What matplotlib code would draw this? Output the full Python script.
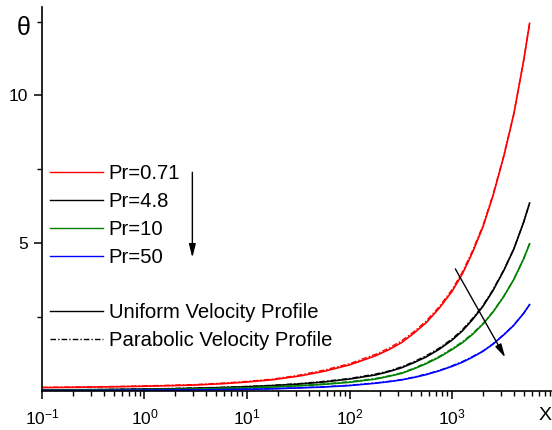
import matplotlib
matplotlib.use("Agg")
import matplotlib.pyplot as plt
from matplotlib.lines import Line2D
from matplotlib.ticker import FixedLocator, NullFormatter

plt.rcParams['font.family'] = ['Liberation Sans', 'DejaVu Sans']
plt.rcParams['mathtext.default'] = 'regular'

# values
x = [0.1, 0.18, 0.32, 0.56, 1, 1.8, 3.2, 5.6, 10, 18, 32, 56, 100, 180, 240, 320, 420,
     560, 750, 1000, 1260, 1580, 2000, 2500, 3200, 4000, 5000, 5700]

red_uniform = [0.11, 0.117, 0.13, 0.14, 0.157, 0.176, 0.20, 0.24, 0.30, 0.38, 0.50, 0.66,
               0.88, 1.19, 1.39, 1.63, 1.94, 2.31, 2.80, 3.37, 3.96, 4.68, 5.55, 6.59,
               7.95, 9.37, 11.2, 12.44]
red_parabolic = [0.12, 0.13, 0.14, 0.15, 0.17, 0.19, 0.215, 0.26, 0.32, 0.40, 0.53, 0.70,
                 0.92, 1.24, 1.44, 1.69, 1.99, 2.37, 2.85, 3.43, 4.02, 4.74, 5.60, 6.63,
                 7.98, 9.39, 11.2, 12.44]

black_uniform = [0.03, 0.035, 0.04, 0.05, 0.06, 0.07, 0.09, 0.11, 0.14, 0.18, 0.23, 0.30,
                 0.40, 0.54, 0.65, 0.78, 0.95, 1.15, 1.41, 1.72, 2.03, 2.41, 2.86, 3.39,
                 4.08, 4.80, 5.72, 6.36]
black_parabolic = [0.035, 0.04, 0.045, 0.055, 0.065, 0.08, 0.10, 0.12, 0.15, 0.19, 0.245, 0.32,
                   0.42, 0.57, 0.67, 0.81, 0.98, 1.19, 1.45, 1.76, 2.07, 2.45, 2.89, 3.42,
                   4.10, 4.81, 5.72, 6.36]

green_uniform = [0.02, 0.02, 0.025, 0.03, 0.04, 0.05, 0.06, 0.08, 0.10, 0.13, 0.17, 0.22,
                 0.29, 0.40, 0.49, 0.59, 0.74, 0.92, 1.14, 1.40, 1.63, 1.91, 2.26, 2.66,
                 3.20, 3.77, 4.48, 4.98]
green_parabolic = [0.025, 0.025, 0.03, 0.035, 0.045, 0.055, 0.07, 0.09, 0.11, 0.14, 0.18, 0.235,
                   0.31, 0.42, 0.505, 0.61, 0.76, 0.95, 1.165, 1.43, 1.66, 1.94, 2.28, 2.68,
                   3.21, 3.78, 4.48, 4.98]

blue_uniform = [0.01, 0.01, 0.01, 0.015, 0.02, 0.025, 0.03, 0.04, 0.05, 0.07, 0.10, 0.13,
                0.18, 0.26, 0.31, 0.37, 0.45, 0.55, 0.68, 0.83, 0.97, 1.14, 1.34, 1.58,
                1.90, 2.22, 2.63, 2.92]
blue_parabolic = [0.012, 0.012, 0.012, 0.017, 0.023, 0.03, 0.035, 0.045, 0.055, 0.075, 0.105, 0.14,
                  0.19, 0.27, 0.32, 0.38, 0.465, 0.57, 0.69, 0.85, 0.99, 1.16, 1.35, 1.59,
                  1.91, 2.23, 2.63, 2.92]

series = [
    ("Pr=0.71", "#ff0000", red_uniform, red_parabolic),
    ("Pr=4.8", "#000000", black_uniform, black_parabolic),
    ("Pr=10", "#008000", green_uniform, green_parabolic),
    ("Pr=50", "#0000ff", blue_uniform, blue_parabolic),
]

x_ticks = [0.1, 1, 10, 100, 1000]
x_tick_labels = ['10$^{-1}$', '10$^{0}$', '10$^{1}$', '10$^{2}$', '10$^{3}$']
y_ticks = [5, 10]
y_tick_labels = ['5', '10']
y_minor = [2.5, 7.5, 12.5]

dashdot = (0, (4, 1.5, 1, 1.5))

fig = plt.figure(figsize=(5.52, 4.30), dpi=100)
ax = fig.add_axes([0.076, 0.091, 0.922, 0.893])

for label, color, uni, para in series:
    ax.plot(x, uni, color=color, lw=1.2)
    ax.plot(x, para, color=color, lw=1.0, ls=dashdot)

ax.set_xscale('log')
ax.set_xlim(0.1, 9200)
ax.set_ylim(0, 13)

ax.xaxis.set_major_locator(FixedLocator(x_ticks))
ax.set_xticklabels(x_tick_labels)
ax.xaxis.set_minor_formatter(NullFormatter())
ax.set_yticks(y_ticks)
ax.set_yticklabels(y_tick_labels)
ax.yaxis.set_minor_locator(FixedLocator(y_minor))

for side in ['top', 'right']:
    ax.spines[side].set_visible(False)
for side in ['left', 'bottom']:
    ax.spines[side].set_linewidth(1.2)

ax.tick_params(axis='both', which='major', direction='out', length=6, width=1.1,
               labelsize=12.5, pad=4)
ax.tick_params(axis='both', which='minor', direction='out', length=3.5, width=1.0)
ax.tick_params(axis='x', which='major', pad=6)

# axis titles placed like the original
ax.text(-0.022, 12.3, 'θ', transform=ax.get_yaxis_transform(), ha='right', va='center',
        fontsize=18)
ax.text(545 / 552, 14 / 430, 'X', transform=fig.transFigure, ha='center', va='center',
        fontsize=14)

# legends
leg_style = dict(loc='upper left', bbox_transform=fig.transFigure, frameon=False,
                 fontsize=14.6, handlelength=2.6, handletextpad=0.3, labelspacing=0.45,
                 borderpad=0, borderaxespad=0)
pr_handles = [Line2D([], [], color=c, lw=1.0) for _, c, _, _ in series]
leg1 = ax.legend(pr_handles, [s[0] for s in series],
                 bbox_to_anchor=(50 / 552, (430 - 164) / 430), **leg_style)
ax.add_artist(leg1)

vel_handles = [Line2D([], [], color='black', lw=1.0),
               Line2D([], [], color='black', lw=1.0, ls=dashdot)]
ax.legend(vel_handles, ['Uniform Velocity Profile', 'Parabolic Velocity Profile'],
          bbox_to_anchor=(50 / 552, (430 - 303) / 430), **leg_style)

# trend arrows
arrow = dict(arrowstyle='-|>,head_length=0.8,head_width=0.2', color='black', lw=1.0,
             shrinkA=0, shrinkB=0)
ax.annotate('', xy=(2.93, 4.51), xytext=(2.93, 7.40), arrowprops=arrow)
ax.annotate('', xy=(3300, 1.13), xytext=(1076, 4.13), arrowprops=arrow)

fig.savefig('out.png', dpi=100)
